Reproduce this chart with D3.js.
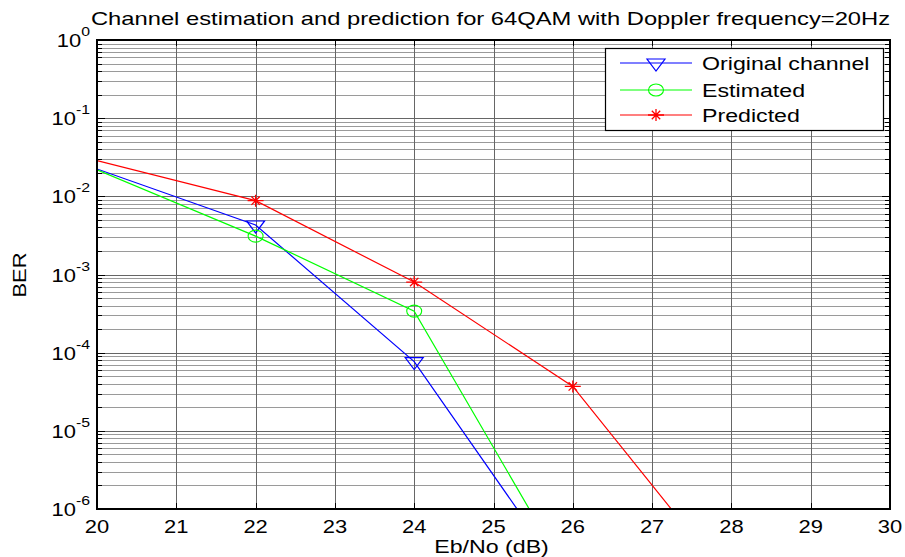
<!DOCTYPE html>
<html lang="en">
  <head>
    <meta charset="utf-8" />
    <script src="https://d3js.org/d3.v7.min.js"></script>
    <style>
      body { margin: 0; background: #fff; }
      text { font-family: "Liberation Sans", Arial, sans-serif; fill: #000; }
    </style>
  </head>
  <body>
    <script>
      // data (x = Eb/No in dB, y = BER)
      var ebno = [18, 20, 22, 24, 26, 28];
      var original = [0.117, 0.0224, 0.0043, 7.7e-5, 9.5e-8, null];
      var estimated = [0.15, 0.0218, 0.0031, 3.4e-4, 1.1e-7, null];
      var predicted = [0.093, 0.0286, 0.0088, 8.0e-4, 3.7e-5, 1.1e-7];
      var xTicks = [20, 21, 22, 23, 24, 25, 26, 27, 28, 29, 30];
      var yDecades = [0, -1, -2, -3, -4, -5, -6];

      var series = [
        { name: "Original channel", values: original, color: "#0000ff", marker: "tri" },
        { name: "Estimated", values: estimated, color: "#00ff00", marker: "circle" },
        { name: "Predicted", values: predicted, color: "#ff0000", marker: "star" },
      ];

      var W = 905, H = 557;
      var pL = 97, pR = 890, pT = 40, pB = 509;

      var x = d3.scaleLinear().domain([20, 30]).range([pL, pR]);
      var y = d3.scaleLog().domain([1e-6, 1]).range([pB, pT]);

      var svg = d3.select("body").append("svg").attr("width", W).attr("height", H);

      svg.append("defs").append("clipPath").attr("id", "plotclip")
        .append("rect").attr("x", pL).attr("y", pT)
        .attr("width", pR - pL).attr("height", pB - pT);

      // the reference text is drawn a bit wide, so stretch it horizontally
      function wideText(g, tx, ty, size, anchor, str, sx) {
        return g.append("text")
          .attr("transform", "translate(" + tx + "," + ty + ") scale(" + (sx || 1.22) + ",1)")
          .attr("text-anchor", anchor).attr("font-size", size).text(str);
      }

      // grid
      var grid = svg.append("g");
      var minorVals = [];
      yDecades.forEach(function (e) {
        if (e === 0) return;
        for (var k = 2; k <= 9; k++) minorVals.push(k * Math.pow(10, e));
      });
      grid.selectAll(".ymin").data(minorVals).enter().append("line")
        .attr("x1", pL).attr("x2", pR)
        .attr("y1", function (d) { return Math.round(y(d)) + 0.5; })
        .attr("y2", function (d) { return Math.round(y(d)) + 0.5; })
        .attr("stroke", "#9a9a9a");
      grid.selectAll(".ymaj").data(yDecades).enter().append("line")
        .attr("x1", pL).attr("x2", pR)
        .attr("y1", function (d) { return Math.round(y(Math.pow(10, d))) + 0.5; })
        .attr("y2", function (d) { return Math.round(y(Math.pow(10, d))) + 0.5; })
        .attr("stroke", "#666");
      grid.selectAll(".xg").data(xTicks).enter().append("line")
        .attr("y1", pT).attr("y2", pB)
        .attr("x1", function (d) { return Math.round(x(d)) + 0.5; })
        .attr("x2", function (d) { return Math.round(x(d)) + 0.5; })
        .attr("stroke", "#666");

      // series lines and markers
      var plot = svg.append("g").attr("clip-path", "url(#plotclip)");
      var line = d3.line()
        .defined(function (d) { return d[1] != null; })
        .x(function (d) { return x(d[0]); })
        .y(function (d) { return y(d[1]); });

      function drawMarker(g, type, color, cx, cy) {
        if (type === "tri") {
          g.append("path")
            .attr("d", "M" + (cx - 9) + "," + (cy - 4) + "L" + (cx + 9) + "," + (cy - 4) + "L" + cx + "," + (cy + 8) + "Z")
            .attr("fill", "none").attr("stroke", color).attr("stroke-width", 1.2);
        } else if (type === "circle") {
          g.append("ellipse").attr("cx", cx).attr("cy", cy).attr("rx", 7.5).attr("ry", 6)
            .attr("fill", "none").attr("stroke", color).attr("stroke-width", 1.1);
        } else {
          var s = 6;
          g.append("path")
            .attr("d", "M" + (cx - s - 2) + "," + cy + "L" + (cx + s + 2) + "," + cy +
              "M" + cx + "," + (cy - s) + "L" + cx + "," + (cy + s) +
              "M" + (cx - s * 0.7) + "," + (cy - s * 0.7) + "L" + (cx + s * 0.7) + "," + (cy + s * 0.7) +
              "M" + (cx - s * 0.7) + "," + (cy + s * 0.7) + "L" + (cx + s * 0.7) + "," + (cy - s * 0.7))
            .attr("stroke", color).attr("stroke-width", 1.3);
        }
      }

      series.forEach(function (s) {
        var pts = ebno.map(function (v, i) { return [v, s.values[i]]; });
        plot.append("path").datum(pts)
          .attr("d", line).attr("fill", "none")
          .attr("stroke", s.color).attr("stroke-width", 1.2);
        pts.forEach(function (p) {
          if (p[1] == null) return;
          var px = x(p[0]), py = y(p[1]);
          // markers sitting on or beyond the axes edge are not shown
          if (px <= pL + 1 || px >= pR - 1 || py <= pT || py >= pB) return;
          drawMarker(plot, s.marker, s.color, px, py);
        });
      });

      // axes box + inner ticks
      var ax = svg.append("g").attr("stroke", "#000");
      ax.append("rect").attr("x", pL).attr("y", pT)
        .attr("width", pR - pL).attr("height", pB - pT)
        .attr("fill", "none").attr("stroke-width", 2);
      xTicks.forEach(function (t) {
        var px = Math.round(x(t)) + 0.5;
        ax.append("line").attr("x1", px).attr("x2", px).attr("y1", pB).attr("y2", pB - 6);
        ax.append("line").attr("x1", px).attr("x2", px).attr("y1", pT).attr("y2", pT + 6);
      });
      minorVals.concat(yDecades.map(function (e) { return Math.pow(10, e); })).forEach(function (v) {
        var py = Math.round(y(v)) + 0.5;
        var len = Math.abs(Math.log10(v) % 1) < 1e-9 ? 8 : 5;
        ax.append("line").attr("x1", pL).attr("x2", pL + len).attr("y1", py).attr("y2", py);
        ax.append("line").attr("x1", pR).attr("x2", pR - len).attr("y1", py).attr("y2", py);
      });

      // tick labels
      var xl = svg.append("g");
      xTicks.forEach(function (t) {
        wideText(xl, x(t), pB + 24, 18, "middle", t, 1.22);
      });

      var ylg = svg.append("g");
      yDecades.forEach(function (e) {
        var t = wideText(ylg, 90, y(Math.pow(10, e)) + 7, 18, "end", "", 1.22);
        t.append("tspan").text("10");
        t.append("tspan").attr("dy", -11).attr("font-size", 13).text(e);
      });

      // title and axis labels
      wideText(svg, (pL + pR) / 2 - 3, 25, 19, "middle",
        "Channel estimation and prediction for 64QAM with Doppler frequency=20Hz", 1.25);
      wideText(svg, (pL + pR) / 2 - 2, 553, 19, "middle", "Eb/No (dB)", 1.22);
      svg.append("text").attr("transform", "translate(26,275) rotate(-90) scale(1.22,1)")
        .attr("text-anchor", "middle").attr("font-size", 18).text("BER");

      // legend
      var lg = svg.append("g");
      lg.append("rect").attr("x", 605.5).attr("y", 48.5).attr("width", 278).attr("height", 82)
        .attr("fill", "#fff").attr("stroke", "#000").attr("stroke-width", 1.2);
      var legendY = [63, 90, 115];
      series.forEach(function (s, i) {
        var ly = legendY[i];
        lg.append("line").attr("x1", 620).attr("x2", 692).attr("y1", ly).attr("y2", ly)
          .attr("stroke", s.color).attr("stroke-width", 1.2);
        drawMarker(lg, s.marker, s.color, 656, ly);
        wideText(lg, 702, ly + 7, 19, "start", s.name, 1.22);
      });
    </script>
  </body>
</html>
